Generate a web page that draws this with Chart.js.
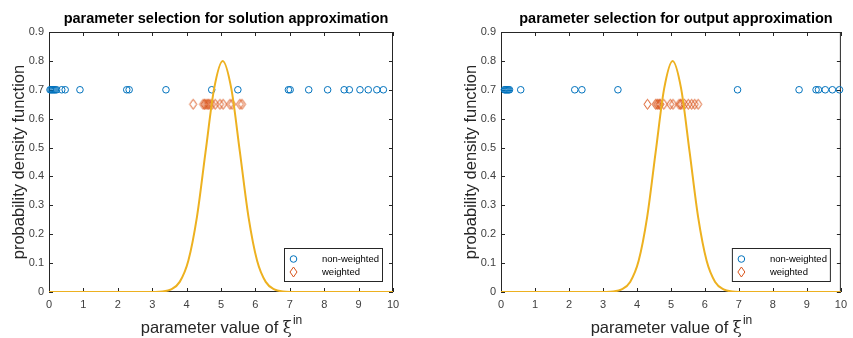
<!DOCTYPE html>
<html>
<head>
<meta charset="utf-8">
<script src="https://cdn.jsdelivr.net/npm/chart.js@4.4.1/dist/chart.umd.min.js"></script>
<style>
  html, body { margin: 0; padding: 0; background: #fff; }
  .wrap { position: absolute; top: 0; height: 338px; }
  #left { left: 0; width: 426px; }
  #right { left: 426px; width: 427px; }
</style>
</head>
<body>
<div class="wrap" id="left"><canvas id="c1"></canvas></div>
<div class="wrap" id="right"><canvas id="c2"></canvas></div>
<script>
// gaussian pdf curve (same in both panels)
const pdfX = [0, 2.55, 3.05, 3.3, 3.55, 3.8, 4.05, 4.3, 4.55, 4.8, 5.05, 5.3, 5.55, 5.8, 6.05, 6.3, 6.55, 6.8, 7.05, 7.55, 10];
const pdfY = [0, 0, 0.0003, 0.0017, 0.009, 0.035, 0.108, 0.259, 0.484, 0.704, 0.8, 0.704, 0.484, 0.259, 0.108, 0.035, 0.009, 0.0017, 0.0003, 0, 0];

const plainLevel = 0.7;
const weightedLevel = 0.65;

const leftPlain = [0.03, 0.06, 0.09, 0.12, 0.15, 0.18, 0.22, 0.37, 0.47, 0.9, 2.26, 2.33, 3.4, 4.73, 5.49, 6.96, 7.01, 7.55, 8.1, 8.58, 8.73, 9.04, 9.28, 9.53, 9.72];
const leftWeighted = [4.19, 4.48, 4.52, 4.56, 4.6, 4.64, 4.68, 4.74, 4.83, 4.97, 5.06, 5.26, 5.32, 5.55, 5.61];

const rightPlain = [0.1, 0.13, 0.16, 0.19, 0.22, 0.25, 0.58, 2.17, 2.38, 3.44, 6.96, 8.77, 9.27, 9.34, 9.54, 9.75, 9.96];
const rightWeighted = [4.31, 4.55, 4.59, 4.62, 4.66, 4.69, 4.79, 4.98, 5.06, 5.24, 5.28, 5.32, 5.4, 5.51, 5.61, 5.7, 5.8];

const xTicks = [0, 1, 2, 3, 4, 5, 6, 7, 8, 9, 10];
const yTicks = [0, 0.1, 0.2, 0.3, 0.4, 0.5, 0.6, 0.7, 0.8, 0.9];

const titles = ["parameter selection for solution approximation", "parameter selection for output approximation"];
const legendLabels = ["non-weighted", "weighted"];

const FONT = "'Liberation Sans', Arial, Helvetica, sans-serif";
const AXIS_COLOR = "#262626";
const BLUE = "#0072BD";
const ORANGE = "#D95319";
const YELLOW = "#EDB120";

// matlab style diamond: taller than wide
const drawDiamond = (ctx, x, y) => {
  ctx.beginPath();
  ctx.moveTo(x, y - 5);
  ctx.lineTo(x + 3.5, y);
  ctx.lineTo(x, y + 5);
  ctx.lineTo(x - 3.5, y);
  ctx.closePath();
  ctx.stroke();
};

const diamondImg = document.createElement("canvas");
diamondImg.width = 11;
diamondImg.height = 13;
(() => {
  const dctx = diamondImg.getContext("2d");
  dctx.strokeStyle = ORANGE;
  dctx.lineWidth = 1;
  drawDiamond(dctx, 5.5, 6.5);
})();

const matlabAxes = {
  id: "matlabAxes",
  beforeDatasetsDraw(chart) {
    const { ctx, chartArea: { left, top, right, bottom }, scales } = chart;
    ctx.save();
    ctx.strokeStyle = AXIS_COLOR;
    ctx.lineWidth = 1;
    ctx.strokeRect(left + 0.5, top + 0.5, right - left - 1, bottom - top - 1);
    ctx.beginPath();
    xTicks.forEach((v) => {
      const px = Math.round(scales.x.getPixelForValue(v)) + 0.5;
      ctx.moveTo(px, bottom);
      ctx.lineTo(px, bottom - 4);
      ctx.moveTo(px, top);
      ctx.lineTo(px, top + 4);
    });
    yTicks.forEach((v) => {
      const py = Math.round(scales.y.getPixelForValue(v)) + 0.5;
      ctx.moveTo(left, py);
      ctx.lineTo(left + 4, py);
      ctx.moveTo(right, py);
      ctx.lineTo(right - 4, py);
    });
    ctx.stroke();
    ctx.restore();
  },
  afterDraw(chart, args, options) {
    const { ctx, chartArea: { left, right, bottom } } = chart;
    const cx = (left + right) / 2;
    ctx.save();
    ctx.fillStyle = "#000";
    ctx.textAlign = "center";
    ctx.textBaseline = "alphabetic";
    ctx.font = `bold 14.5px ${FONT}`;
    ctx.fillText(options.title, cx + 5, 23);

    // x label with superscript
    ctx.fillStyle = AXIS_COLOR;
    const main = "parameter value of ";
    ctx.font = `16.5px ${FONT}`;
    const w1 = ctx.measureText(main).width;
    ctx.font = `16.5px 'DejaVu Serif', serif`;
    const w2 = ctx.measureText("ξ").width;
    ctx.font = `12px ${FONT}`;
    const w3 = ctx.measureText("in").width;
    let x = cx - (w1 + w2 + w3) / 2;
    ctx.textAlign = "left";
    ctx.font = `16.5px ${FONT}`;
    ctx.fillText(main, x, 333);
    x += w1;
    ctx.font = `16.5px 'DejaVu Serif', serif`;
    ctx.fillText("ξ", x, 333);
    x += w2;
    ctx.font = `12px ${FONT}`;
    ctx.fillText("in", x + 1, 324);

    // legend box
    const bw = 98, bh = 33;
    const bx = right - 11 - bw, by = bottom - 11 - bh;
    ctx.fillStyle = "#fff";
    ctx.fillRect(bx, by, bw, bh);
    ctx.strokeStyle = AXIS_COLOR;
    ctx.lineWidth = 1;
    ctx.strokeRect(bx + 0.5, by + 0.5, bw, bh);
    ctx.font = `9.5px ${FONT}`;
    ctx.textBaseline = "middle";
    ctx.fillStyle = "#000";
    ctx.strokeStyle = BLUE;
    ctx.beginPath();
    ctx.arc(bx + 9.5, by + 11, 3.3, 0, Math.PI * 2);
    ctx.stroke();
    ctx.fillText(legendLabels[0], bx + 38, by + 11);
    ctx.strokeStyle = ORANGE;
    drawDiamond(ctx, bx + 9.5, by + 24);
    ctx.fillText(legendLabels[1], bx + 38, by + 24);
    ctx.restore();
  },
};

const makeChart = (canvasId, title, plain, weighted, padLeft, padRight) => {
  const curve = pdfX.map((x, i) => ({ x: x, y: pdfY[i] }));
  new Chart(document.getElementById(canvasId), {
    type: "scatter",
    data: {
      datasets: [
        {
          label: "pdf",
          data: curve,
          showLine: true,
          borderColor: YELLOW,
          borderWidth: 2,
          pointRadius: 0,
          cubicInterpolationMode: "monotone",
        },
        {
          label: legendLabels[0],
          data: plain.map((x) => ({ x: x, y: plainLevel })),
          pointStyle: "circle",
          pointRadius: 3.3,
          borderColor: BLUE,
          backgroundColor: "rgba(0,0,0,0)",
          pointBorderWidth: 1,
          clip: false,
        },
        {
          label: legendLabels[1],
          data: weighted.map((x) => ({ x: x, y: weightedLevel })),
          pointStyle: diamondImg,
          pointRadius: 5,
          borderColor: ORANGE,
          backgroundColor: "rgba(0,0,0,0)",
          clip: false,
        },
      ],
    },
    options: {
      responsive: true,
      maintainAspectRatio: false,
      animation: false,
      layout: { padding: { left: padLeft, right: padRight, top: 32, bottom: 0 } },
      scales: {
        x: {
          type: "linear",
          min: 0,
          max: 10,
          afterBuildTicks: (scale) => {
            scale.ticks = xTicks.map((v) => ({ value: v }));
          },
          afterFit: (scale) => {
            scale.height = 46;
          },
          grid: { display: false, drawTicks: false },
          border: { display: false },
          ticks: {
            padding: 6,
            color: "#404040",
            font: { size: 11, family: FONT },
          },
        },
        y: {
          min: 0,
          max: 0.9,
          afterBuildTicks: (scale) => {
            scale.ticks = yTicks.map((v) => ({ value: v }));
          },
          afterFit: (scale) => {
            scale.width = 49;
          },
          grid: { display: false, drawTicks: false },
          border: { display: false },
          ticks: {
            padding: 5,
            color: "#404040",
            font: { size: 11, family: FONT },
            callback: (v) => (v === 0 ? "0" : v.toFixed(1)),
          },
          title: {
            display: true,
            text: "probability density function",
            color: AXIS_COLOR,
            padding: { top: 10, bottom: 0 },
            font: { size: 16.5, family: FONT },
          },
        },
      },
      plugins: {
        legend: { display: false },
        tooltip: { enabled: false },
        matlabAxes: { title: title },
      },
    },
    plugins: [matlabAxes],
  });
};

makeChart("c1", titles[0], leftPlain, leftWeighted, 0, 33);
makeChart("c2", titles[1], rightPlain, rightWeighted, 26, 6);
</script>
</body>
</html>
